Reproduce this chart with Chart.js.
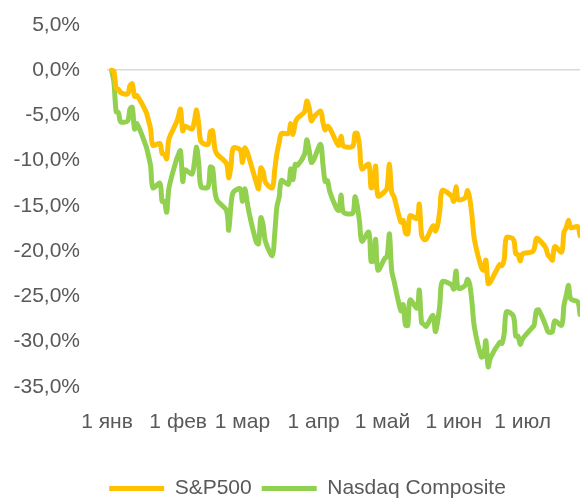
<!DOCTYPE html>
<html>
<head>
  <meta charset="UTF-8">
  <title>S&P500 и Nasdaq Composite</title>
  <script src="https://cdn.jsdelivr.net/npm/chart.js"></script>
  <style>
    body {
      margin: 0;
      background-color: #ffffff;
    }
    #wrap {
      width: 580px;
      height: 500px;
    }
  </style>
</head>
<body>

  <div id="wrap"><canvas id="lineChart"></canvas></div>

  <script>
    // торговые дни 2022 (ММ-ДД)
    const dates = [
      '01-03','01-04','01-05','01-06','01-07','01-10','01-11','01-12','01-13','01-14',
      '01-18','01-19','01-20','01-21','01-24','01-25','01-26','01-27','01-28','01-31',
      '02-01','02-02','02-03','02-04','02-07','02-08','02-09','02-10','02-11','02-14',
      '02-15','02-16','02-17','02-18','02-22','02-23','02-24','02-25','02-28',
      '03-01','03-02','03-03','03-04','03-07','03-08','03-09','03-10','03-11','03-14',
      '03-15','03-16','03-17','03-18','03-21','03-22','03-23','03-24','03-25','03-28',
      '03-29','03-30','03-31',
      '04-01','04-04','04-05','04-06','04-07','04-08','04-11','04-12','04-13','04-14',
      '04-18','04-19','04-20','04-21','04-22','04-25','04-26','04-27','04-28','04-29',
      '05-02','05-03','05-04','05-05','05-06','05-09','05-10','05-11','05-12','05-13',
      '05-16','05-17','05-18','05-19','05-20','05-23','05-24','05-25','05-26','05-27','05-31',
      '06-01','06-02','06-03','06-06','06-07','06-08','06-09','06-10','06-13','06-14',
      '06-15','06-16','06-17','06-21','06-22','06-23','06-24','06-27','06-28','06-29','06-30',
      '07-01','07-05','07-06','07-07','07-08','07-11','07-12','07-13','07-14','07-15',
      '07-18','07-19','07-20','07-21','07-22','07-25','07-26'
    ];

    // изменение с начала года, %
    const sp500 = [
      0, -0.1, -2.0, -2.1, -2.5, -2.6, -1.7, -1.5, -2.9, -2.8,
      -4.6, -5.5, -6.5, -8.3, -8.1, -9.2, -9.3, -9.8, -7.6, -5.9,
      -5.2, -4.3, -6.7, -6.2, -6.5, -5.7, -4.4, -6.1, -7.9, -8.2,
      -6.8, -6.7, -8.7, -9.3, -10.3, -11.9, -10.6, -8.6, -8.8,
      -10.2, -8.6, -9.0, -9.8, -12.4, -13.1, -10.8, -11.2, -12.4, -13.0,
      -11.1, -9.2, -8.0, -7.0, -7.0, -5.9, -7.1, -5.8, -5.3, -4.6,
      -3.4, -4.1, -5.6,
      -5.2, -4.5, -5.7, -6.6, -6.2, -6.4, -8.0, -8.3, -7.3, -8.4,
      -8.4, -7.0, -7.0, -8.4, -10.9, -10.4, -13.0, -12.8, -10.6, -13.9,
      -13.4, -13.0, -10.4, -13.5, -14.0, -16.8, -16.6, -18.0, -18.1, -16.1,
      -16.4, -14.8, -18.2, -18.7, -18.7, -17.2, -17.8, -17.1, -15.4, -13.3, -13.9,
      -14.5, -12.9, -14.3, -14.1, -13.3, -14.2, -16.2, -18.7, -21.8, -22.1,
      -21.0, -23.6, -23.4, -21.5, -21.6, -20.9, -18.5, -18.7, -20.3, -20.4, -21.1,
      -20.3, -20.1, -19.8, -18.6, -18.7, -19.6, -20.4, -20.7, -21.0, -19.5,
      -20.1, -17.9, -17.4, -16.6, -17.4, -17.3, -18.3
    ];

    const nasdaq = [
      0, -1.3, -4.6, -4.7, -5.7, -5.6, -4.3, -4.1, -6.5, -5.9,
      -8.4, -9.4, -10.6, -13.0, -12.5, -14.5, -14.5, -15.7, -13.0, -10.1,
      -9.4, -8.9, -12.3, -11.0, -11.5, -10.3, -8.5, -10.4, -12.9, -12.9,
      -10.7, -10.8, -13.4, -14.4, -15.5, -17.7, -14.9, -13.5, -13.1,
      -14.5, -13.1, -14.5, -15.9, -19.0, -19.2, -16.3, -17.1, -18.9, -20.5,
      -18.2, -15.1, -14.0, -12.2, -12.6, -10.9, -12.1, -10.4, -10.5, -9.3,
      -7.7, -8.8, -10.2,
      -9.9, -8.2, -10.3, -12.3, -12.2, -13.4, -15.3, -15.5, -13.8, -15.7,
      -15.8, -14.0, -15.0, -16.8, -18.9, -17.9, -21.1, -21.1, -18.7, -22.1,
      -20.8, -20.6, -18.1, -22.2, -23.3, -26.6, -25.9, -28.2, -28.2, -25.4,
      -26.3, -24.3, -27.9, -28.1, -28.3, -27.1, -28.9, -27.8, -25.8, -23.4, -23.7,
      -24.2, -22.2, -24.1, -23.8, -23.1, -23.7, -25.8, -28.4, -31.7, -31.6,
      -29.9, -32.8, -31.8, -30.1, -30.2, -29.1, -26.7, -27.2, -29.4, -29.4, -30.3,
      -29.7, -28.5, -28.2, -26.6, -26.5, -28.2, -28.9, -29.0, -28.9, -27.7,
      -28.2, -26.0, -24.9, -23.8, -25.3, -25.6, -27.0
    ];

    const monthStarts = ['01-01','02-01','03-01','04-01','05-01','06-01','07-01'];
    const monthLabels = ['1 янв','1 фев','1 мар','1 апр','1 май','1 июн','1 июл'];

    function dayOfYear(md) {
      const [m, d] = md.split('-').map(Number);
      return (Date.UTC(2022, m - 1, d) - Date.UTC(2022, 0, 1)) / 86400000;
    }

    const xs = dates.map(dayOfYear);
    const tickDays = monthStarts.map(dayOfYear);

    const font = { family: "'Liberation Sans', Arial, sans-serif", size: 21 };

    // легенда в Excel чуть правее центра и ниже
    const nudgeLegend = {
      id: 'nudgeLegend',
      afterLayout(chart) {
        const l = chart.legend;
        if (!l) return;
        l.left += 35;
        l.top += 10;
        l.bottom += 10;
      }
    };

    const ctx = document.getElementById('lineChart').getContext('2d');

    const chart = new Chart(ctx, {
      type: 'line',
      data: {
        datasets: [{
          label: 'S&P500',
          data: xs.map((x, i) => ({ x: x, y: sp500[i] })),
          borderColor: '#FFC000',
          backgroundColor: '#FFC000',
          borderWidth: 5,
          borderCapStyle: 'round',
          borderJoinStyle: 'round',
          tension: 0.3,
          pointRadius: 0
        }, {
          label: 'Nasdaq Composite',
          data: xs.map((x, i) => ({ x: x, y: nasdaq[i] })),
          borderColor: '#92D050',
          backgroundColor: '#92D050',
          borderWidth: 5,
          borderCapStyle: 'round',
          borderJoinStyle: 'round',
          tension: 0.3,
          pointRadius: 0
        }]
      },
      plugins: [nudgeLegend],
      options: {
        responsive: true,
        maintainAspectRatio: false,
        animation: false,
        layout: {
          padding: { left: 0, right: 0, top: 25, bottom: 1 }
        },
        scales: {
          x: {
            type: 'linear',
            min: 0,
            max: dayOfYear('07-26'),
            afterBuildTicks: (scale) => {
              scale.ticks = tickDays.map(v => ({ value: v }));
            },
            ticks: {
              font: font,
              color: '#595959',
              padding: 23,
              maxRotation: 0,
              autoSkip: false,
              callback: (value) => monthLabels[tickDays.indexOf(value)]
            },
            grid: { display: false, drawTicks: false },
            border: { display: false }
          },
          y: {
            min: -35,
            max: 5,
            afterFit: (scale) => {
              scale.width = 107;
              scale.paddingTop = 0;
              scale.paddingBottom = 0;
            },
            ticks: {
              stepSize: 5,
              font: font,
              color: '#595959',
              padding: 27,
              callback: (value) => value.toFixed(1).replace('.', ',') + '%'
            },
            grid: {
              drawTicks: false,
              lineWidth: 1.5,
              color: (c) => (c.tick && c.tick.value === 0) ? '#d9d9d9' : 'rgba(0,0,0,0)'
            },
            border: { display: false }
          }
        },
        plugins: {
          legend: {
            display: true,
            position: 'bottom',
            labels: {
              font: font,
              color: '#595959',
              usePointStyle: true,
              pointStyle: 'line',
              pointStyleWidth: 55,
              padding: 10
            }
          },
          tooltip: { enabled: false }
        }
      }
    });
  </script>

</body>
</html>
